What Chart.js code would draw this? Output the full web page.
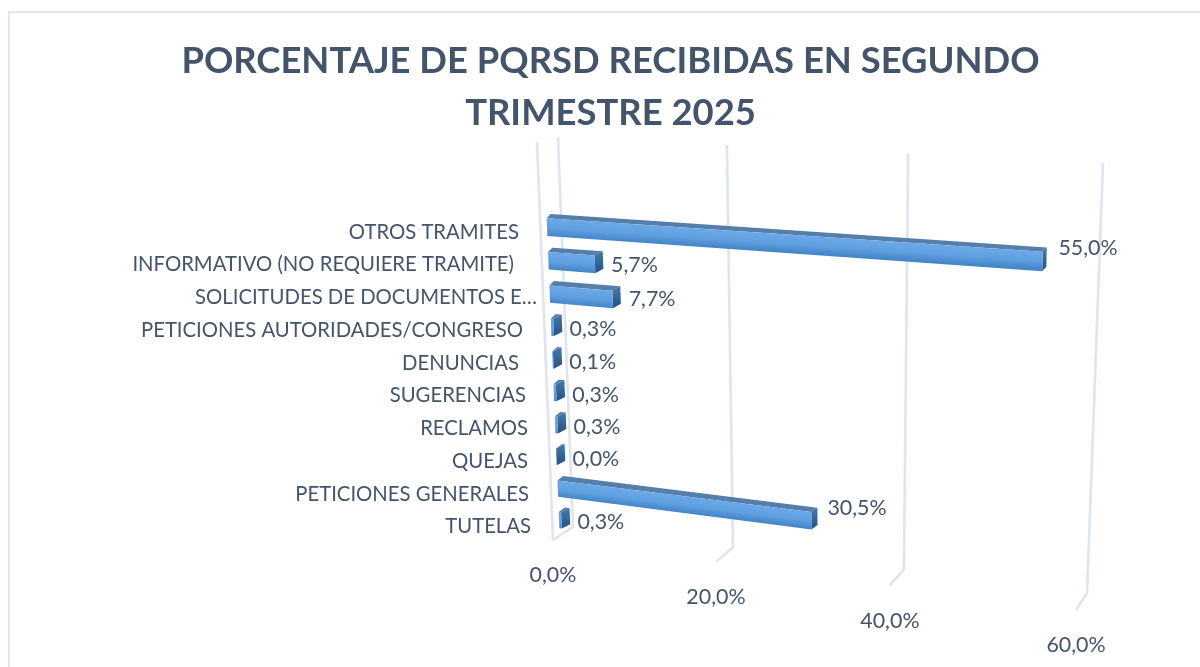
<!DOCTYPE html>
<html><head><meta charset="utf-8">
<style>html,body{margin:0;padding:0;background:#fff}canvas{display:block}</style>
<script src="https://cdn.jsdelivr.net/npm/chart.js@4"></script>
</head><body>
<div style="width:1200px;height:667px"><canvas id="c" width="1200" height="667"></canvas></div>
<script>
const titleLines = ['PORCENTAJE DE PQRSD RECIBIDAS EN SEGUNDO', 'TRIMESTRE 2025'];
const categories = ['OTROS TRAMITES','INFORMATIVO (NO REQUIERE TRAMITE)','SOLICITUDES DE DOCUMENTOS E…','PETICIONES AUTORIDADES/CONGRESO','DENUNCIAS','SUGERENCIAS','RECLAMOS','QUEJAS','PETICIONES GENERALES','TUTELAS'];
const percentages = [55.0,5.7,7.7,0.3,0.1,0.3,0.3,0.0,30.5,0.3];
const axisMax = 60, axisStep = 20;

// layout constants
const labelRight = [519,514,537,523,519,526,528,528,529,531];
const FONT = 'Lato, Carlito, sans-serif';
const TEXT = '#44546A', GRID = '#E0E4EC';
const frontQuad = [[546.3,210.2],[1093.4,246.2],[1083.6,607.5],[559.7,535.8]];
const backWall  = [[558,137],[1103,163],[1087,593],[573,527]];

function homography(q){
  const [p0,p1,p2,p3]=q;
  const dx1=p1[0]-p2[0],dx2=p3[0]-p2[0],sx=p0[0]-p1[0]+p2[0]-p3[0];
  const dy1=p1[1]-p2[1],dy2=p3[1]-p2[1],sy=p0[1]-p1[1]+p2[1]-p3[1];
  const d=dx1*dy2-dx2*dy1, g=(sx*dy2-dx2*sy)/d, h=(dx1*sy-sx*dy1)/d;
  const a=p1[0]-p0[0]+g*p1[0], b=p3[0]-p0[0]+h*p3[0], c=p0[0];
  const e=p1[1]-p0[1]+g*p1[1], f=p3[1]-p0[1]+h*p3[1], k=p0[1];
  return (u,v)=>{const w=g*u+h*v+1;return [(a*u+b*v+c)/w,(e*u+f*v+k)/w];};
}
const H={front:homography(frontQuad),wall:homography(backWall)};
const floorEnd=u=>{const b=H.wall(u,1);return [b[0]-20+9*u,b[1]+13+4*u];};

function poly(ctx,pts,fill){ctx.beginPath();pts.forEach((p,i)=>i?ctx.lineTo(p[0],p[1]):ctx.moveTo(p[0],p[1]));ctx.closePath();ctx.fillStyle=fill;ctx.fill();}
function line(ctx,pts){ctx.beginPath();pts.forEach((p,i)=>i?ctx.lineTo(p[0],p[1]):ctx.moveTo(p[0],p[1]));ctx.stroke();}
const fmt=v=>v.toFixed(1).replace('.',',')+'%';

const perspective={
  id:'perspective',
  beforeDatasetsDraw(chart){
    const ctx=chart.ctx,x=chart.scales.x,y=chart.scales.y;
    ctx.save();
    // frame
    ctx.strokeStyle='#E3E6EC';ctx.lineWidth=2;
    line(ctx,[[9,667],[9,12],[1200,12]]);
    // walls
    ctx.strokeStyle=GRID;ctx.lineWidth=2.6;ctx.lineJoin='round';
    line(ctx,[[537,142],[553,540]]);
    x.ticks.forEach(t=>{
      const u=t.value/axisMax;
      const e=floorEnd(u);
      line(ctx,[H.wall(u,0),H.wall(u,1),e]);
      ctx.fillStyle=TEXT;ctx.font='21.4px '+FONT;ctx.textAlign='center';ctx.textBaseline='middle';
      ctx.fillText(fmt(t.value),e[0],e[1]+35.5);
    });
    // category labels
    ctx.fillStyle=TEXT;ctx.font='20.3px '+FONT;ctx.textAlign='right';ctx.textBaseline='middle';
    categories.forEach((c,i)=>ctx.fillText(c,labelRight[i],y.getPixelForTick(i)+2+i*0.65));
    ctx.restore();
  },
  beforeDatasetDraw(chart,args){
    const ctx=chart.ctx,a=chart.chartArea,bars=args.meta.data;
    const P=(px,py)=>H.front((px-a.left)/a.width,(py-a.top)/a.height);
    ctx.save();
    bars.forEach((el,i)=>{
      const h=el.height/2,val=percentages[i];
      const tl=P(el.base,el.y-h),tr=P(el.x,el.y-h),br=P(el.x,el.y+h),bl=P(el.base,el.y+h);
      const dxL=4+0.22*i,dxR=8.5-0.08*val,dy=-4.4;
      const offL=p=>[p[0]+dxL,p[1]+dy],offR=p=>[p[0]+dxR,p[1]+dy];
      poly(ctx,[tl,tr,offR(tr),offL(tl)],'#557EAB');
      let g=ctx.createLinearGradient(tr[0],tr[1],br[0],br[1]);
      g.addColorStop(0,'#3F72A3');g.addColorStop(1,'#28527E');
      poly(ctx,[tr,offR(tr),offR(br),br],g);
      // front face: shade across the bar, perpendicular to its slanted long edge
      const ex=tr[0]-tl[0],ey=tr[1]-tl[1],len=Math.hypot(ex,ey)||1;
      const nx=-ey/len,ny=ex/len||1,hh=(bl[0]-tl[0])*nx+(bl[1]-tl[1])*ny;
      g=ctx.createLinearGradient(tl[0],tl[1],tl[0]+nx*hh,tl[1]+ny*hh);
      g.addColorStop(0,'#6CA8E6');g.addColorStop(0.55,'#5F9FE0');g.addColorStop(1,'#4486C8');
      poly(ctx,[tl,tr,br,bl],g);
    });
    ctx.restore();
    return false;
  },
  afterDatasetsDraw(chart){
    const ctx=chart.ctx,a=chart.chartArea,bars=chart.getDatasetMeta(0).data;
    const P=(px,py)=>H.front((px-a.left)/a.width,(py-a.top)/a.height);
    ctx.save();
    ctx.fillStyle=TEXT;ctx.font='21.4px '+FONT;ctx.textAlign='left';ctx.textBaseline='middle';
    bars.forEach((el,i)=>{
      const E=P(el.x,el.y),B=P(el.base,el.y);
      ctx.fillText(fmt(percentages[i]),E[0]+16,B[1]+(E[1]-B[1])*0.55+2);
    });
    ctx.restore();
  }
};

new Chart(document.getElementById('c'),{
  type:'bar',
  data:{labels:categories,datasets:[{label:'Porcentaje',data:percentages,backgroundColor:'#5B9BD5',barPercentage:0.52,categoryPercentage:1}]},
  options:{
    indexAxis:'y',responsive:false,animation:false,
    layout:{padding:{left:21,right:0,top:0,bottom:124}},
    plugins:{
      legend:{display:false},tooltip:{enabled:false},
      title:{display:true,text:titleLines,color:TEXT,font:{family:FONT,size:36.4,weight:'bold',lineHeight:1.43},padding:{top:35,bottom:75}}
    },
    scales:{
      x:{min:0,max:axisMax,ticks:{stepSize:axisStep,display:false},grid:{display:false},border:{display:false}},
      y:{ticks:{display:false},grid:{display:false},border:{display:false},afterFit(s){s.width=525;}}
    }
  },
  plugins:[perspective]
});
</script>
</body></html>
